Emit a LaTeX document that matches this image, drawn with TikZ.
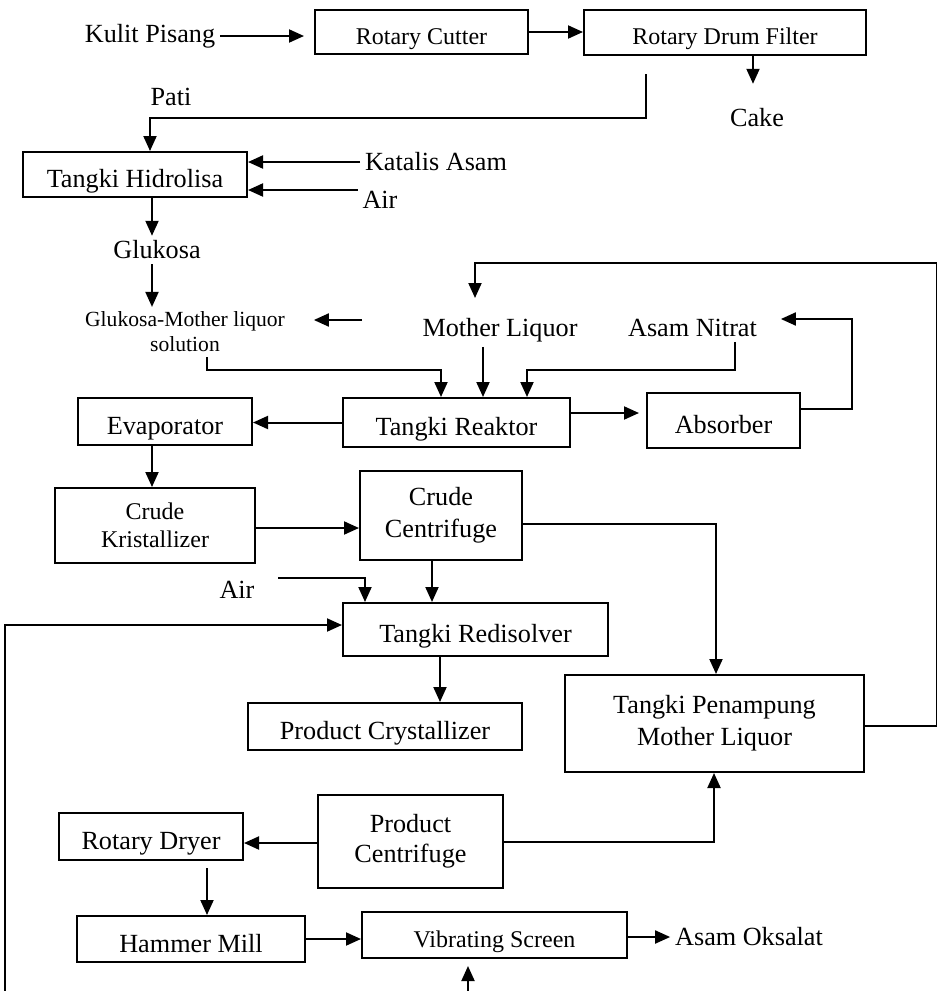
\documentclass[tikz,border=0pt]{standalone}
\usepackage{fontspec}
\setmainfont{Liberation Serif}
\usetikzlibrary{arrows.meta}

\begin{document}
\begin{tikzpicture}[x=0.5pt,y=-0.5pt,line width=1pt,
  tallbox/.style={draw,inner sep=0pt,align=center,font=\fontsize{13.1}{16}\selectfont},
  box/.style={tallbox,text height=13.1pt,text depth=0pt},
  smallbox/.style={tallbox,text height=12pt,text depth=0pt,font=\fontsize{12}{14}\selectfont},
  lbl/.style={inner sep=2pt,align=center,font=\fontsize{13.1}{16}\selectfont},
  flow/.style={-{Triangle[length=7.5pt,width=6.5pt]}}]
\useasboundingbox (0,0) rectangle (937,991);
\node[lbl] (kulit) at (150,36) {Kulit Pisang};
\node[smallbox,minimum width=106.5pt,minimum height=22pt] (cutter) at (421.5,32) {Rotary Cutter};
\node[smallbox,minimum width=141pt,minimum height=22.5pt] (drum) at (725,32.5) {Rotary Drum Filter};
\node[lbl] (cake) at (757,118) {Cake};
\node[lbl] (pati) at (171,97) {Pati};
\node[box,minimum width=112pt,minimum height=22.5pt] (hidro) at (135,174.5) {Tangki Hidrolisa};
\node[lbl] (katalis) at (436,162) {Katalis Asam};
\node[lbl] (air) at (380,200) {Air};
\node[lbl] (gluk) at (157,250) {Glukosa};
\node[lbl,font=\fontsize{10.8}{12.5}\selectfont] (gml) at (185,332) {Glukosa-Mother liquor\\solution};
\node[lbl] (ml) at (500,330) {Mother Liquor};
\node[lbl] (asam) at (692.5,328) {Asam Nitrat};
\node[box,minimum width=113.5pt,minimum height=24.5pt] (reaktor) at (456.5,422.5) {Tangki Reaktor};
\node[box,minimum width=76.5pt,minimum height=27.5pt] (absorber) at (723.5,420.5) {Absorber};
\node[box,minimum width=87pt,minimum height=23.5pt] (evap) at (165,421.5) {Evaporator};
\node[tallbox,minimum width=100pt,minimum height=37.5pt,font=\fontsize{12}{14}\selectfont] (ckrist) at (155,525.5) {Crude\\Kristallizer};
\node[tallbox,minimum width=81pt,minimum height=44.5pt] (ccent) at (441,515.5) {Crude\\Centrifuge};
\node[lbl] (air2) at (237,590) {Air};
\node[box,minimum width=132.5pt,minimum height=26.5pt] (redis) at (475.5,629.5) {Tangki Redisolver};
\node[box,minimum width=137pt,minimum height=23.5pt] (pcryst) at (385,726.5) {Product Crystallizer};
\node[tallbox,minimum width=149.5pt,minimum height=48.5pt] (penamp) at (714.5,723.5) {Tangki Penampung\\Mother Liquor};
\node[tallbox,minimum width=92.5pt,minimum height=46.5pt,font=\fontsize{13.1}{15}\selectfont] (pcent) at (410.5,841.5) {Product\\Centrifuge};
\node[box,minimum width=92pt,minimum height=23.5pt] (dryer) at (151,836.5) {Rotary Dryer};
\node[box,minimum width=114pt,minimum height=23pt] (hammer) at (191,939) {Hammer Mill};
\node[smallbox,minimum width=132.5pt,minimum height=23pt] (vibr) at (494.5,935) {Vibrating Screen};
\node[lbl] (oks) at (749,937) {Asam Oksalat};
\coordinate (mlin) at (362,320);
\coordinate (mlup) at (475,298);
\coordinate (bot1) at (5,991);
\coordinate (bot2) at (468,991);
\draw[flow,shorten >=5pt] (kulit.east) -- (kulit.east -| cutter.west);
\draw[flow] (cutter.east) -- (cutter.east -| drum.west);
\draw[flow,shorten >=10pt] ([xshift=14pt]drum.south) -- ([xshift=14pt]drum.south |- cake.north);
\draw[flow] ([xshift=-39.5pt,yshift=-9pt]drum.south) -- ++(0,44) -| ([xshift=7.5pt]hidro.north);
\draw[flow] (katalis.west) -- (katalis.west -| hidro.east);
\draw[flow] ([yshift=5pt]air.west) -- ([yshift=5pt]air.west -| hidro.east);
\draw[flow] ([xshift=8.5pt]hidro.south) -- ([xshift=8.5pt]hidro.south |- gluk.north);
\draw[flow] ([xshift=-2.5pt]gluk.south) -- ([xshift=-2.5pt]gluk.south |- gml.north);
\draw[flow,shorten >=12pt] (mlin) -- (mlin -| gml.east);
\draw[flow] ([xshift=11pt]gml.south) -- ++(0,13) -| ([xshift=-7.75pt]reaktor.north);
\draw[flow] ([xshift=-8.5pt]ml.south) -- ([xshift=-8.5pt]ml.south |- reaktor.north);
\draw[flow] ([xshift=21.25pt]asam.south) -- ++(0,28) -| ([xshift=35.25pt]reaktor.north);
\draw[flow,shorten >=3.5pt] ([yshift=4.75pt]reaktor.east) -- ([yshift=4.75pt]reaktor.east -| absorber.west);
\draw[flow] ([yshift=5.75pt]absorber.east) -- ++(51,0) |- ([xshift=9.5pt,yshift=4.5pt]asam.east);
\draw[flow] ([yshift=-1.25pt]penamp.east) -- ++(72,0) |- ([yshift=17.5pt]mlup) -- (mlup);
\draw[flow] (reaktor.west) -- (reaktor.west -| evap.east);
\draw[flow] ([xshift=-6.5pt]evap.south) -- ([xshift=-6.5pt]evap.south |- ckrist.north);
\draw[flow] ([yshift=-1.25pt]ckrist.east) -- ([yshift=-1.25pt]ckrist.east -| ccent.west);
\draw[flow] ([yshift=-4.25pt]ccent.east) -| ([xshift=0.75pt]penamp.north);
\draw[flow] ([xshift=-4.5pt]ccent.south) -- ([xshift=-4.5pt]ccent.south |- redis.north);
\draw[flow] ([xshift=9.5pt,yshift=6pt]air2.east) -| ([xshift=-55.25pt]redis.north);
\draw[flow] (bot1) |- ([yshift=2.25pt]redis.west);
\draw[flow] ([xshift=-17.75pt]redis.south) -- ([xshift=-17.75pt]redis.south |- pcryst.north);
\draw[flow] ([yshift=-0.75pt]pcent.west) -- ([yshift=-0.75pt]pcent.west -| dryer.east);
\draw[flow] (pcent.east) -| ([xshift=-0.25pt]penamp.south);
\draw[flow] ([xshift=28pt,yshift=-3.5pt]dryer.south) -- ([xshift=28pt]dryer.south |- hammer.north);
\draw[flow] (hammer.east) -- (hammer.east -| vibr.west);
\draw[flow] ([yshift=-1pt]vibr.east) -- ([yshift=-1pt]vibr.east -| oks.west);
\draw[flow,shorten >=3.5pt] (bot2) -- (bot2 |- vibr.south);
\end{tikzpicture}
\end{document}
